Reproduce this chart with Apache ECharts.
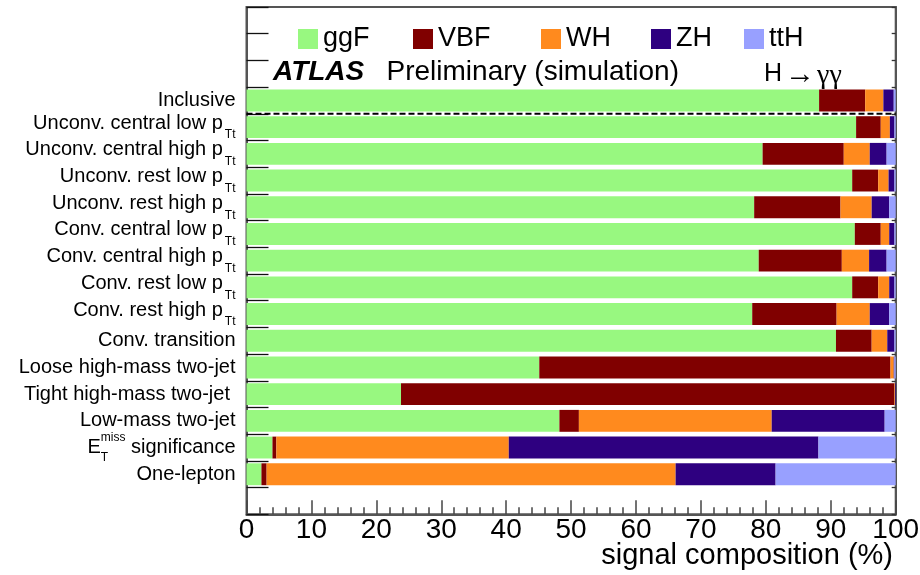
<!DOCTYPE html>
<html>
<head>
<meta charset="utf-8">
<title>H → γγ signal composition</title>
<script src="https://cdn.jsdelivr.net/npm/echarts@6/dist/echarts.min.js"></script>
<style>
  html, body { margin: 0; padding: 0; background: #ffffff; }
  #chart { width: 920px; height: 575px; }
</style>
</head>
<body>
<div id="chart"></div>
<script>
// Event categories, listed top to bottom ("_" starts a subscript, "^" a superscript)
const categories = [
  'Inclusive',
  'Unconv. central low p_Tt',
  'Unconv. central high p_Tt',
  'Unconv. rest low p_Tt',
  'Unconv. rest high p_Tt',
  'Conv. central low p_Tt',
  'Conv. central high p_Tt',
  'Conv. rest low p_Tt',
  'Conv. rest high p_Tt',
  'Conv. transition',
  'Loose high-mass two-jet',
  'Tight high-mass two-jet ',
  'Low-mass two-jet',
  'E_T^miss significance',
  'One-lepton'
];

// Production processes
const processes = ['ggF', 'VBF', 'WH', 'ZH', 'ttH'];

// Signal composition in % for each category (same order as categories)
const ggF = [88.2, 93.9, 79.5, 93.3, 78.2, 93.7, 78.9, 93.3, 77.9, 90.8, 45.1, 23.8, 48.2, 4.0, 2.3];
const VBF = [7.1, 3.8, 12.5, 4.0, 13.3, 4.0, 12.8, 4.0, 13.0, 5.5, 54.1, 76.0, 3.0, 0.6, 0.8];
const WH  = [2.8, 1.4, 4.0, 1.6, 4.8, 1.3, 4.2, 1.7, 5.1, 2.4, 0.5, 0.1, 29.7, 35.8, 63.0];
const ZH  = [1.6, 0.7, 2.6, 0.9, 2.7, 0.8, 2.7, 0.8, 3.0, 1.1, 0.1, 0.1, 17.4, 47.7, 15.4];
const ttH = [0.3, 0.2, 1.4, 0.2, 1.0, 0.2, 1.4, 0.2, 1.0, 0.2, 0.2, 0.0, 1.7, 11.9, 18.5];

// x axis: tick values
const xTicks = [0, 10, 20, 30, 40, 50, 60, 70, 80, 90, 100];

const processValues = [ggF, VBF, WH, ZH, ttH];
const processColors = ['#98f880', '#800000', '#ff8a1e', '#2e0080', '#98a0ff'];

// Three empty rows above the categories hold the legend and the labels, one empty row below
const TOP_EMPTY = 3, BOTTOM_EMPTY = 1;
const rowNames = [];
for (let i = 0; i < TOP_EMPTY; i++) rowNames.push('');
categories.forEach(c => rowNames.push(c));
for (let i = 0; i < BOTTOM_EMPTY; i++) rowNames.push('');
const pad = arr => {
  const out = [];
  for (let i = 0; i < TOP_EMPTY; i++) out.push(null);
  arr.forEach(v => out.push(v));
  for (let i = 0; i < BOTTOM_EMPTY; i++) out.push(null);
  return out;
};

const FONT = '"Liberation Sans", Arial, Helvetica, sans-serif';

// Turn the sub/superscript notation into rich-text tokens
function richLabel(name) {
  if (name.indexOf('E_T^miss') === 0) {
    return '{e|E}{t|T}{ms|miss}{e|' + name.slice(8) + '}';
  }
  const k = name.indexOf('_');
  if (k > 0) {
    return '{m|' + name.slice(0, k) + '}{s|' + name.slice(k + 1) + '}';
  }
  return name;
}

const chart = echarts.init(document.getElementById('chart'));

const legendLeft = [298, 413, 541, 651, 744];

const option = {
  animation: false,
  backgroundColor: '#ffffff',
  textStyle: { fontFamily: FONT },
  title: {
    text: 'signal composition (%)',
    right: 27,
    top: 541,
    padding: 0,
    textStyle: { fontSize: 29, fontWeight: 'normal', color: '#000000', fontFamily: FONT }
  },
  grid: {
    left: 246.5, right: 24.3, top: 7, bottom: 60.7,
    containLabel: false,
    outerBoundsMode: 'none',
    show: true, borderColor: '#555555', borderWidth: 2, backgroundColor: 'transparent'
  },
  legend: processes.map((p, i) => ({
    data: [p],
    left: legendLeft[i],
    top: 25.5,
    padding: 0,
    icon: 'rect',
    itemWidth: 20,
    itemHeight: 20,
    selectedMode: false,
    textStyle: { fontSize: 27, color: '#000000', fontFamily: FONT }
  })),
  xAxis: {
    type: 'value',
    min: xTicks[0],
    max: xTicks[xTicks.length - 1],
    interval: xTicks[1] - xTicks[0],
    axisLine: { show: true, lineStyle: { color: '#555555', width: 2 } },
    axisTick: { show: true, inside: true, length: 14, lineStyle: { color: '#444444', width: 1.5 } },
    minorTick: { show: true, splitNumber: 5, length: 7, lineStyle: { color: '#444444', width: 1.5 } },
    axisLabel: { fontSize: 28, color: '#000000', margin: 2, fontFamily: FONT, hideOverlap: false },
    splitLine: { show: false }
  },
  yAxis: [
    {
      type: 'category',
      inverse: true,
      data: rowNames,
      axisLine: { show: true, lineStyle: { color: '#555555', width: 2 } },
      axisTick: { show: true, inside: true, length: 22, interval: 0, lineStyle: { color: '#111111', width: 1.3 } },
      axisLabel: {
        interval: 0,
        margin: 11,
        fontSize: 20,
        color: '#000000',
        fontFamily: FONT,
        formatter: richLabel,
        rich: {
          m: { fontSize: 20, color: '#000000', fontFamily: FONT, padding: [0, 0, 8, 0] },
          s: { fontSize: 12, color: '#000000', fontFamily: FONT, padding: [16, 0, 0, 2] },
          e: { fontSize: 20, color: '#000000', fontFamily: FONT, align: 'left' },
          t: { fontSize: 12, color: '#000000', fontFamily: FONT, align: 'left', width: 0, padding: [20, 0, 0, 0] },
          ms: { fontSize: 12, color: '#000000', fontFamily: FONT, align: 'left', padding: [0, 0, 20, 0] }
        }
      },
      splitLine: { show: false }
    },
    {
      type: 'category',
      inverse: true,
      position: 'right',
      data: rowNames,
      axisLine: { show: true, lineStyle: { color: '#555555', width: 2 } },
      axisTick: { show: true, inside: true, length: 4, interval: 0, lineStyle: { color: '#333333', width: 1.3 } },
      axisLabel: { show: false },
      splitLine: { show: false }
    }
  ],
  series: processes.map((p, i) => ({
    name: p,
    type: 'bar',
    stack: 'composition',
    yAxisIndex: 0,
    barWidth: '82%',
    itemStyle: { color: processColors[i] },
    data: pad(processValues[i])
  })),
  graphic: [
    {
      type: 'text', x: 273, y: 72, z: 10,
      style: { text: 'ATLAS', font: 'italic bold 28px ' + FONT, fill: '#000000', align: 'left', verticalAlign: 'middle' }
    },
    {
      type: 'text', x: 386.5, y: 72, z: 10,
      style: { text: 'Preliminary (simulation)', font: '28px ' + FONT, fill: '#000000', align: 'left', verticalAlign: 'middle' }
    },
    {
      type: 'text', x: 764, y: 74, z: 10,
      style: {
        text: '{h|H}{a|→}{g|γγ}',
        fill: '#000000', align: 'left', verticalAlign: 'middle',
        rich: {
          h: { font: '25px ' + FONT, fill: '#000000' },
          a: { font: '30px ' + FONT, fill: '#000000', padding: [2, 2, 0, 3] },
          g: { font: '28px "Liberation Serif", serif', fill: '#000000', padding: [4, 0, 0, 0] }
        }
      }
    }
  ]
};

chart.setOption(option);

// Dashed separator between the inclusive row and the individual categories,
// placed halfway between the two rows through the axis scales.
const yInclusive = chart.convertToPixel({ yAxisIndex: 0 }, TOP_EMPTY);
const yFirstCat = chart.convertToPixel({ yAxisIndex: 0 }, TOP_EMPTY + 1);
const xStart = chart.convertToPixel({ xAxisIndex: 0 }, xTicks[0]);
const xEnd = chart.convertToPixel({ xAxisIndex: 0 }, xTicks[xTicks.length - 1]);
const ySep = (yInclusive + yFirstCat) / 2;
chart.setOption({
  graphic: option.graphic.concat([{
    type: 'line', z: 100, silent: true,
    shape: { x1: xStart, y1: ySep, x2: xEnd, y2: ySep },
    style: { stroke: '#000000', lineWidth: 2, lineDash: [6, 3] }
  }])
});
</script>
</body>
</html>
